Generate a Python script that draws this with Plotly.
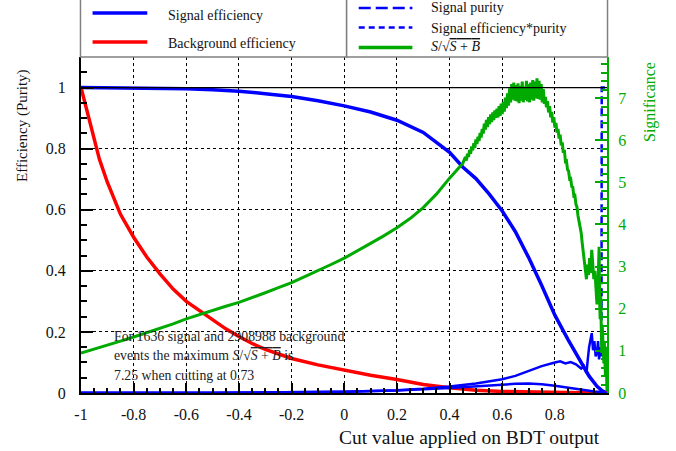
import plotly.graph_objects as go

# ---- cut values and curves (BDT output scan) ----
sig_eff_x = [-1.0, -0.9, -0.8, -0.7, -0.6, -0.5, -0.4, -0.3, -0.2, -0.1, 0.0, 0.1, 0.2, 0.3,
             0.4, 0.45, 0.5, 0.55, 0.6, 0.65, 0.7, 0.75, 0.8, 0.85, 0.9, 0.93, 0.96, 0.98, 0.998]
sig_eff_y = [1.0, 0.9995, 0.999, 0.998, 0.996, 0.993, 0.988, 0.980, 0.971, 0.957, 0.940, 0.920, 0.893, 0.853,
             0.788, 0.740, 0.702, 0.652, 0.596, 0.528, 0.444, 0.352, 0.255, 0.175, 0.097, 0.055, 0.022, 0.007, 0.0]

bkg_eff_x = [-1.0, -0.98, -0.96, -0.93, -0.9, -0.85, -0.8, -0.75, -0.7, -0.65, -0.6, -0.55, -0.5, -0.45,
             -0.4, -0.35, -0.3, -0.25, -0.2, -0.1, 0.0, 0.1, 0.2, 0.3, 0.4, 0.5, 0.6, 0.7, 0.8, 0.9, 0.998]
bkg_eff_y = [1.0, 0.93, 0.86, 0.765, 0.69, 0.585, 0.51, 0.445, 0.39, 0.34, 0.30, 0.27, 0.24, 0.21,
             0.185, 0.162, 0.143, 0.127, 0.113, 0.092, 0.074, 0.058, 0.044, 0.028, 0.017, 0.009, 0.005,
             0.003, 0.0015, 0.0007, 0.0]

purity_x = [-1.0, -0.5, 0.0, 0.1, 0.2, 0.3, 0.4, 0.5, 0.6, 0.65, 0.7, 0.75, 0.8, 0.82, 0.84, 0.86,
            0.88, 0.9, 0.91, 0.92, 0.925, 0.93, 0.94, 0.945, 0.95, 0.955, 0.96, 0.964, 0.968, 0.972,
            0.977, 0.978, 0.998]
purity_y = [0.0006, 0.0009, 0.004, 0.006, 0.009, 0.014, 0.021, 0.031, 0.045, 0.056, 0.072, 0.088, 0.100,
            0.104, 0.097, 0.101, 0.094, 0.080, 0.088, 0.065, 0.110, 0.150, 0.196, 0.140, 0.170, 0.120,
            0.130, 0.170, 0.110, 0.150, 0.120, 1.0, 1.0]

effpur_x = [-1.0, -0.5, 0.0, 0.2, 0.4, 0.5, 0.6, 0.65, 0.7, 0.75, 0.8, 0.85, 0.9, 0.95, 0.98, 0.998]
effpur_y = [0.0006, 0.0009, 0.004, 0.008, 0.016, 0.022, 0.028, 0.030, 0.031, 0.029, 0.024, 0.017,
            0.010, 0.005, 0.003, 0.0]

signif_x = [-1.0, -0.95, -0.9, -0.85, -0.8, -0.75, -0.7, -0.65, -0.6, -0.55, -0.5, -0.45, -0.4, -0.35,
            -0.3, -0.25, -0.2, -0.15, -0.1, -0.05, 0.0, 0.05, 0.1, 0.15, 0.2, 0.25, 0.3, 0.35, 0.4,
            0.45,
            0.460, 0.464, 0.468, 0.472, 0.476, 0.480, 0.484, 0.488, 0.492, 0.496,
            0.500, 0.504, 0.508, 0.512, 0.516, 0.520, 0.524, 0.528, 0.532, 0.536,
            0.540, 0.544, 0.548, 0.552, 0.556, 0.560, 0.564, 0.568, 0.572, 0.576,
            0.580, 0.584, 0.588, 0.592, 0.596, 0.600, 0.604, 0.608, 0.612, 0.616,
            0.620, 0.624, 0.628, 0.632, 0.636, 0.640, 0.644, 0.648, 0.652, 0.656,
            0.660, 0.664, 0.668, 0.672, 0.676, 0.680, 0.684, 0.688, 0.692, 0.696,
            0.700, 0.704, 0.708, 0.712, 0.716, 0.720, 0.724, 0.728, 0.732, 0.736,
            0.740, 0.744, 0.748, 0.752, 0.756, 0.760, 0.764, 0.768, 0.772, 0.776,
            0.780, 0.784, 0.788, 0.792, 0.796, 0.800, 0.804, 0.808, 0.812, 0.816,
            0.820, 0.824, 0.828, 0.832, 0.836, 0.840, 0.844, 0.848, 0.852, 0.856,
            0.860, 0.864, 0.868, 0.872, 0.876, 0.880, 0.884, 0.888, 0.892, 0.896,
            0.900, 0.904, 0.908, 0.912, 0.916, 0.920, 0.924, 0.928, 0.932, 0.936,
            0.940, 0.944, 0.948, 0.952, 0.956, 0.960, 0.964, 0.968, 0.970, 0.972,
            0.974, 0.976, 0.978, 0.980, 0.982, 0.984, 0.986, 0.988, 0.990, 0.992,
            0.994, 0.996, 0.998]
signif_y = [0.95, 1.04, 1.13, 1.23, 1.33, 1.43, 1.53, 1.64, 1.76, 1.86, 1.97, 2.06, 2.15, 2.26,
            2.38, 2.50, 2.62, 2.76, 2.90, 3.05, 3.20, 3.37, 3.55, 3.73, 3.92, 4.14, 4.40, 4.72, 5.10,
            5.45,
            5.60, 5.52, 5.68, 5.60, 5.77, 5.68, 5.85, 5.76, 5.93, 5.82,
            6.02, 5.91, 6.08, 5.98, 6.17, 6.06, 6.27, 6.16, 6.39, 6.25,
            6.48, 6.31, 6.55, 6.38, 6.61, 6.43, 6.66, 6.48, 6.71, 6.53,
            6.75, 6.54, 6.81, 6.58, 6.87, 6.62, 6.91, 6.68, 7.01, 6.76,
            7.11, 6.82, 7.23, 6.90, 7.33, 6.96, 7.37, 6.94, 7.31, 6.92,
            7.35, 6.88, 7.29, 6.94, 7.39, 6.90, 7.27, 6.96, 7.41, 6.92,
            7.33, 6.90, 7.37, 6.96, 7.43, 6.94, 7.39, 7.00, 7.47, 6.98,
            7.41, 6.96, 7.33, 6.90, 7.21, 6.86, 7.03, 6.78, 6.93, 6.66,
            6.81, 6.54, 6.67, 6.42, 6.55, 6.30, 6.41, 6.18, 6.27, 6.04,
            6.13, 5.88, 5.95, 5.70, 5.77, 5.50, 5.51, 5.30, 5.27, 5.08,
            5.09, 4.90, 4.89, 4.68, 4.69, 4.48, 4.41, 4.20, 4.09, 3.90,
            3.80, 3.55, 3.30, 3.15, 2.90, 2.70, 3.05, 2.80, 3.20, 2.85,
            3.40, 3.10, 2.70, 2.90, 2.40, 2.10, 2.60, 3.47, 2.20, 1.75,
            2.30, 1.40, 0.95, 1.60, 1.10, 1.30, 0.70, 1.20, 0.90, 0.40,
            1.10, 0.30, 0.05]

x_ticks = [-1.0, -0.8, -0.6, -0.4, -0.2, 0.0, 0.2, 0.4, 0.6, 0.8]
x_tick_text = ["-1", "-0.8", "-0.6", "-0.4", "-0.2", "0", "0.2", "0.4", "0.6", "0.8"]
y_ticks = [0, 0.2, 0.4, 0.6, 0.8, 1.0]
y_tick_text = ["0", "0.2", "0.4", "0.6", "0.8", "1"]
sig_ticks = [0, 1, 2, 3, 4, 5, 6, 7]

n_signal = 1636
n_background = 2908988
best_signif = 7.25
best_cut = 0.73

BLUE = "#0000ff"
RED = "#ff0000"
GREEN = "#00aa00"
FONT = "Liberation Serif"
SQRT_SB = "<i>S</i>/√<span style='text-decoration:overline'><i>S</i> + <i>B</i></span>"

fig = go.Figure()

fig.add_trace(go.Scatter(x=sig_eff_x, y=sig_eff_y, mode="lines", line=dict(color=BLUE, width=3.5),
                         name="Signal efficiency"))
fig.add_trace(go.Scatter(x=bkg_eff_x, y=bkg_eff_y, mode="lines", line=dict(color=RED, width=3.5),
                         name="Background efficiency"))
# purity: noisy low part, then the step to 1 drawn dashed
k = purity_y.index(1.0)
fig.add_trace(go.Scatter(x=purity_x[:k], y=purity_y[:k], mode="lines",
                         line=dict(color=BLUE, width=2.5), name="Signal purity"))
fig.add_trace(go.Scatter(x=purity_x[k - 1:], y=purity_y[k - 1:], mode="lines",
                         line=dict(color=BLUE, width=2.5, dash="8px,4px"), showlegend=False))
fig.add_trace(go.Scatter(x=effpur_x, y=effpur_y, mode="lines", line=dict(color=BLUE, width=2.5),
                         name="Signal efficiency*purity"))
fig.add_trace(go.Scatter(x=signif_x, y=signif_y, mode="lines", yaxis="y2",
                         line=dict(color=GREEN, width=3), name="S/sqrt(S+B)"))

# reference line at efficiency 1
fig.add_shape(type="line", xref="paper", yref="y", x0=0, x1=1, y0=1, y1=1,
              line=dict(color="black", width=1.2))

# two framed legend boxes above the plot
box_line = dict(color="#808080", width=1.5)
fig.add_shape(type="rect", xref="paper", yref="paper", x0=-0.001, x1=0.505, y0=1.0, y1=1.3,
              line=box_line, fillcolor="white", layer="above")
fig.add_shape(type="rect", xref="paper", yref="paper", x0=0.505, x1=1.001, y0=1.0, y1=1.3,
              line=box_line, fillcolor="white", layer="above")

legend_items = [
    (0.022, 0.126, 1.131, 0.161, 1.125, "Signal efficiency", dict(color=BLUE, width=3.5)),
    (0.022, 0.126, 1.045, 0.161, 1.039, "Background efficiency", dict(color=RED, width=3.5)),
    (0.528, 0.630, 1.146, 0.6625, 1.146, "Signal purity", dict(color=BLUE, width=2.5, dash="12px,5px")),
    (0.528, 0.630, 1.088, 0.6625, 1.086, "Signal efficiency*purity", dict(color=BLUE, width=2.5, dash="6px,4px")),
    (0.528, 0.630, 1.028, 0.6625, 1.030, SQRT_SB, dict(color=GREEN, width=3.5)),
]
for x0, x1, yl, xt, yt, label, ln in legend_items:
    fig.add_shape(type="line", xref="paper", yref="paper", x0=x0, x1=x1, y0=yl, y1=yl,
                  line=ln, layer="above")
    fig.add_annotation(xref="paper", yref="paper", x=xt, y=yt, text=label, showarrow=False,
                       xanchor="left", yanchor="middle", font=dict(family=FONT, size=14, color="#111"))

info_lines = [
    f"For {n_signal} signal and {n_background} background",
    f"events the maximum {SQRT_SB} is",
    f"{best_signif} when cutting at {best_cut}",
]
for i, line in enumerate(info_lines):
    fig.add_annotation(xref="paper", yref="paper", x=0.059, y=(393 - 336 - 19.5 * i) / 336,
                       text=line, showarrow=False, xanchor="left", yanchor="middle",
                       font=dict(family=FONT, size=13.8, color="#222"))

# axis titles
fig.add_annotation(xref="paper", yref="paper", x=(602 - 81) / 526, y=(393 - 437) / 336,
                   text="Cut value applied on BDT output", showarrow=False,
                   xanchor="right", yanchor="middle", font=dict(family=FONT, size=19.5, color="#111"))
fig.add_annotation(xref="paper", yref="paper", x=(22 - 81) / 526, y=(393 - 126) / 336,
                   text="Efficiency (Purity)", showarrow=False, textangle=-90,
                   xanchor="center", yanchor="middle", font=dict(family=FONT, size=15, color="#111"))
fig.add_annotation(xref="paper", yref="paper", x=(650 - 81) / 526, y=(393 - 102) / 336,
                   text="Significance", showarrow=False, textangle=-90,
                   xanchor="center", yanchor="middle", font=dict(family=FONT, size=16, color=GREEN))

fig.update_layout(
    width=676, height=451,
    margin=dict(l=81, r=69, t=57, b=58),
    paper_bgcolor="white", plot_bgcolor="white",
    showlegend=False,
    xaxis=dict(range=[-1, 0.998], tickmode="array", tickvals=x_ticks, ticktext=x_tick_text,
               ticks="inside", ticklen=10, tickwidth=1.5, tickcolor="black",
               showline=True, linecolor="black", linewidth=2, zeroline=False,
               showgrid=True, gridcolor="black", griddash="dot", gridwidth=1,
               minor=dict(tick0=-1, dtick=0.05, ticks="inside", ticklen=5, tickcolor="black",
                          showgrid=False),
               ticklabelstandoff=6,
               tickfont=dict(family=FONT, size=16, color="#111")),
    yaxis=dict(range=[0, 1.1], tickmode="array", tickvals=y_ticks, ticktext=y_tick_text,
               ticks="inside", ticklen=12, tickwidth=1.5, tickcolor="black",
               showline=True, linecolor="black", linewidth=2, zeroline=False,
               showgrid=True, gridcolor="black", griddash="dot", gridwidth=1,
               minor=dict(tick0=0, dtick=0.05, ticks="inside", ticklen=6, tickcolor="black",
                          showgrid=False),
               ticklabelstandoff=10,
               tickfont=dict(family=FONT, size=16, color="#111")),
    yaxis2=dict(range=[0, best_signif * 1.1], overlaying="y", side="right",
                tickmode="array", tickvals=sig_ticks,
                ticks="inside", ticklen=12, tickwidth=1.5, tickcolor=GREEN,
                showline=True, linecolor=GREEN, linewidth=2, zeroline=False, showgrid=False,
                minor=dict(tick0=0, dtick=0.2, ticks="inside", ticklen=6, tickcolor=GREEN,
                           showgrid=False),
                ticklabelstandoff=6,
                tickfont=dict(family=FONT, size=16, color=GREEN)),
)

fig.write_html("out.html", config={"displayModeBar": False})
